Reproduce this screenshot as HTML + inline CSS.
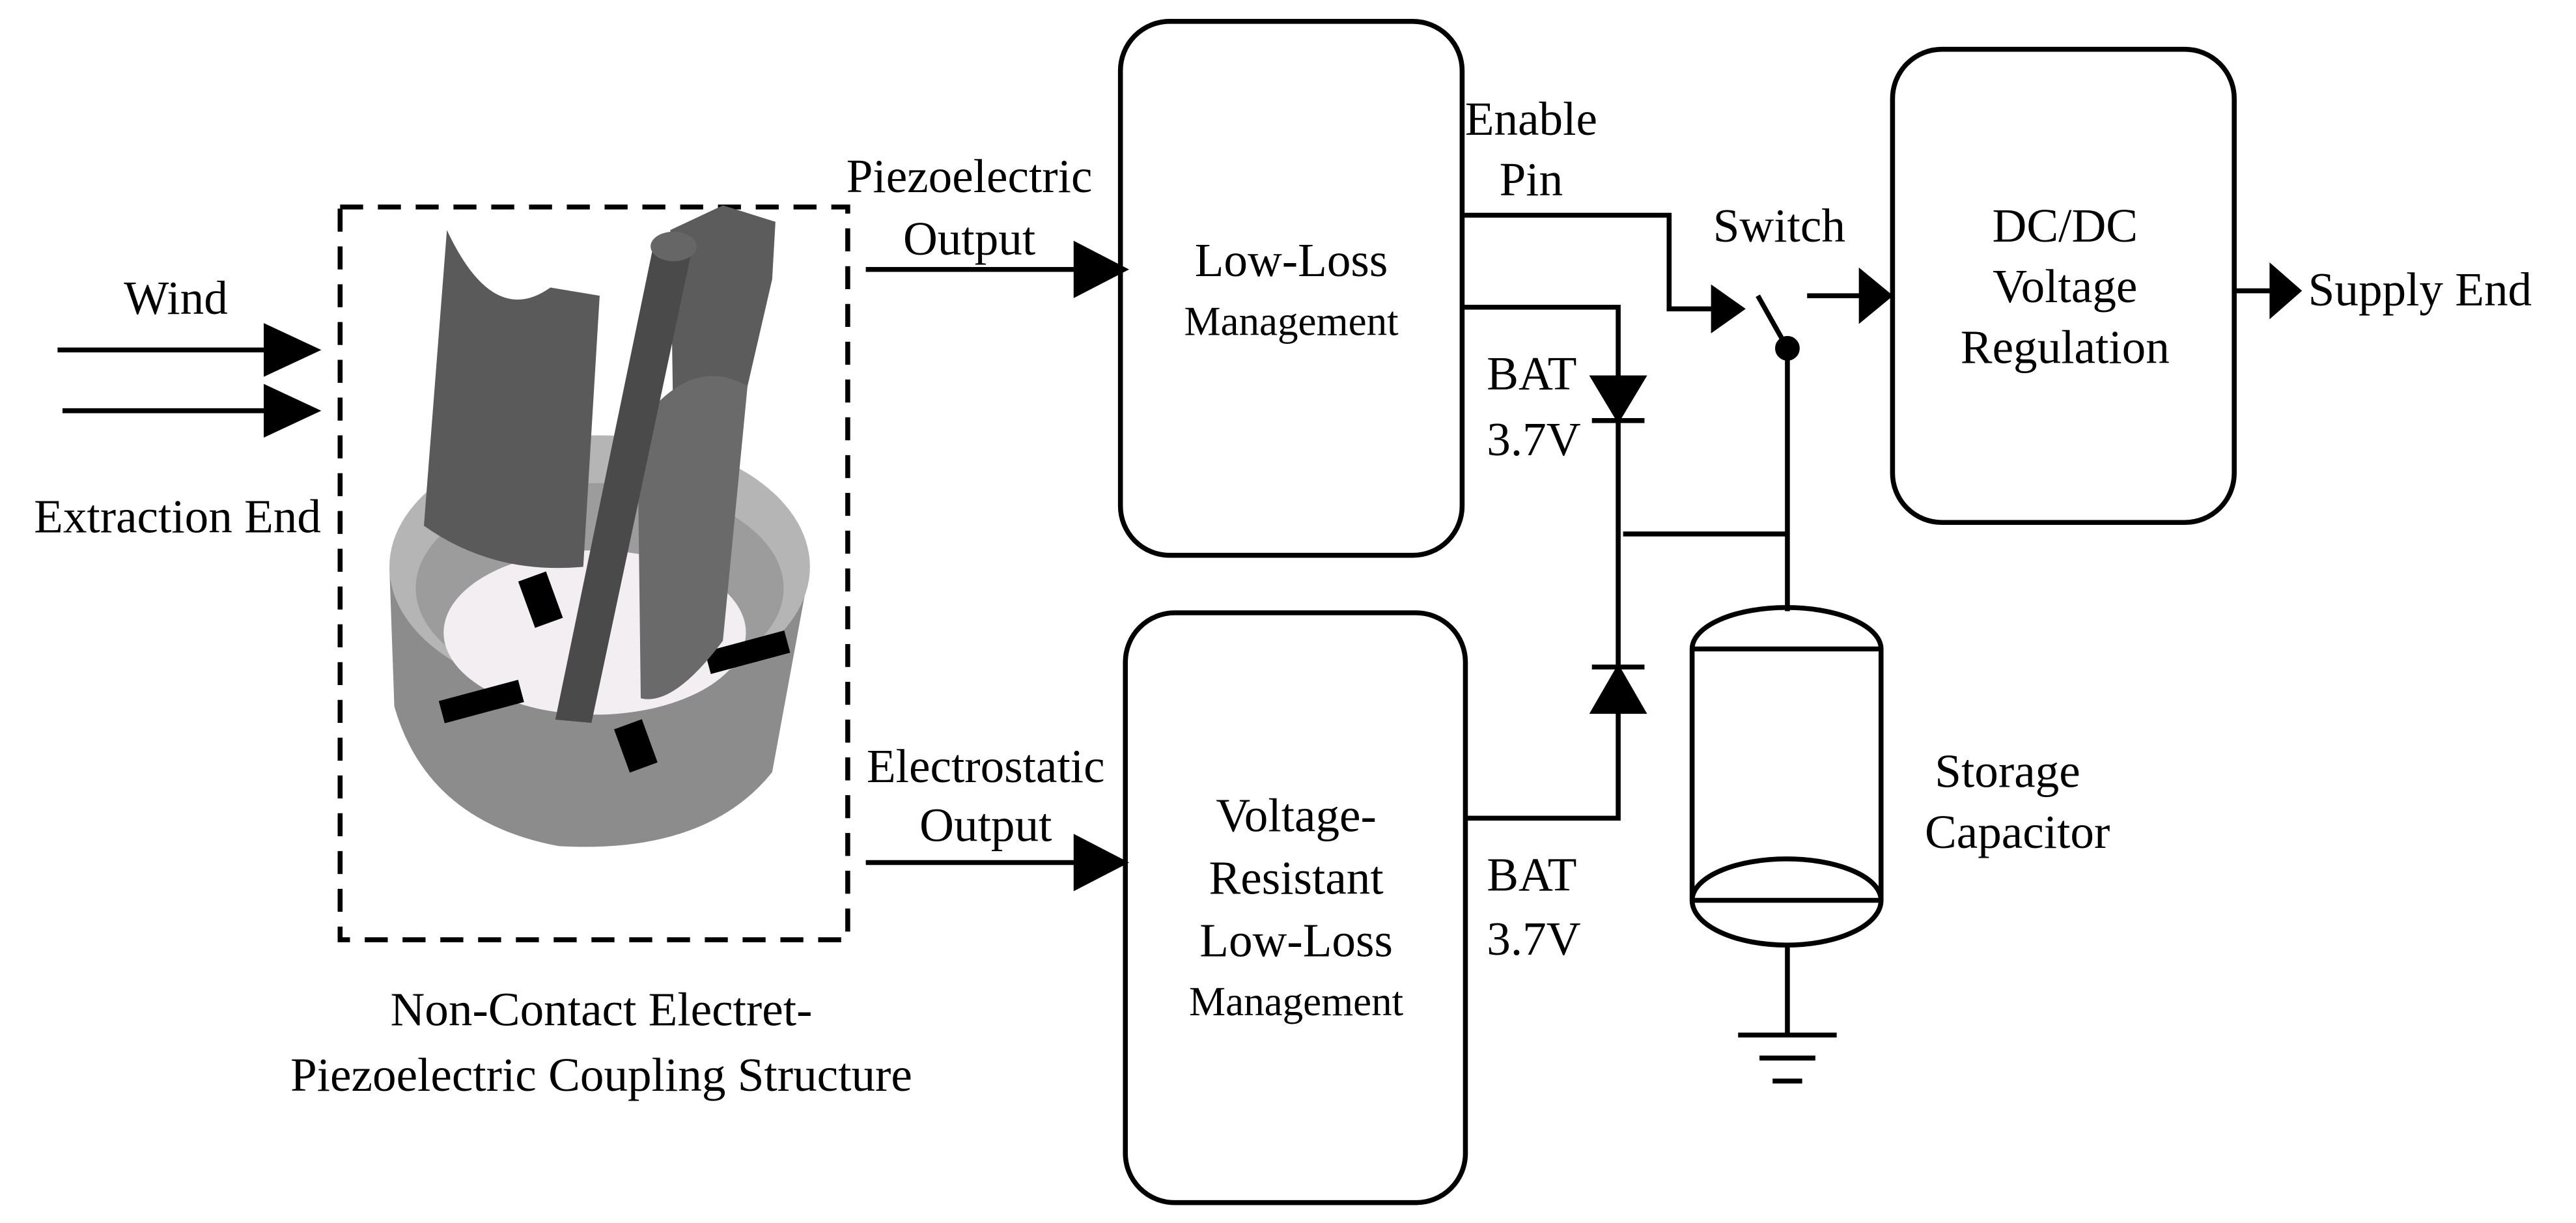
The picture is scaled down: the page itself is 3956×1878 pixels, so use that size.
<!DOCTYPE html>
<html><head><meta charset="utf-8"><style>html,body{margin:0;padding:0;background:#fff}svg{display:block}svg text{font-family:"Liberation Serif","DejaVu Serif",serif}</style></head><body>
<svg width="3956" height="1878" viewBox="0 0 1568 744.4" xmlns="http://www.w3.org/2000/svg" style="font-family:'Liberation Serif',serif" font-size="29" fill="#000">
<g stroke="#000" stroke-width="3" fill="none">
<line x1="35" y1="213" x2="165" y2="213"/><path d="M162,199L192,213L162,227z" fill="#000"/>
<line x1="38" y1="250" x2="165" y2="250"/><path d="M162,236L192,250L162,264z" fill="#000"/>
<rect x="207" y="126" width="309" height="446" stroke-dasharray="14,9"/>
<line x1="527" y1="164" x2="658" y2="164"/><path d="M655,149L684,164L655,179z" fill="#000"/>
<line x1="527" y1="525" x2="658" y2="525"/><path d="M655,510L684,525L655,540z" fill="#000"/>
<rect x="682" y="13" width="208" height="325" rx="30"/>
<rect x="685" y="373" width="207" height="359" rx="30"/>
<rect x="1152" y="30" width="208" height="288" rx="30"/>
<polyline points="890,131 1016,131 1016,188 1045,188"/><path d="M1043,176L1060,188L1043,200z" fill="#000"/>
<line x1="1070" y1="180" x2="1088" y2="212"/>
<circle cx="1088" cy="212" r="6" fill="#000"/>
<line x1="1100" y1="180" x2="1135" y2="180"/><path d="M1133,166L1150,180L1133,194z" fill="#000"/>
<line x1="1360" y1="177" x2="1385" y2="177"/><path d="M1383,163L1399,177L1383,191z" fill="#000"/>
<polyline points="890,187 985,187 985,498 892,498"/>
<path d="M970,230L1000,230L985,255z" fill="#000"/><line x1="969" y1="256" x2="1001" y2="256"/>
<path d="M970,433L1000,433L985,407z" fill="#000"/><line x1="969" y1="406" x2="1001" y2="406"/>
<line x1="988" y1="325" x2="1088" y2="325"/>
<line x1="1088" y1="212" x2="1088" y2="372"/>
<path d="M1030,395A57,25 0 0 1 1145,395"/>
<line x1="1030" y1="395" x2="1145" y2="395"/>
<path d="M1030,548A57,25 0 0 1 1145,548"/>
<line x1="1030" y1="548" x2="1145" y2="548"/>
<path d="M1030,548A57,27 0 0 0 1145,548"/>
<line x1="1030" y1="395" x2="1030" y2="548"/><line x1="1145" y1="395" x2="1145" y2="548"/>
<line x1="1088" y1="575" x2="1088" y2="630"/>
<line x1="1058" y1="630" x2="1118" y2="630"/><line x1="1071" y1="644" x2="1105" y2="644"/><line x1="1079" y1="658" x2="1097" y2="658"/>
</g>
<g stroke="none">
<path d="M237,345 L240,430 Q260,500 340,515 Q430,520 470,470 L493,345z" fill="#8c8c8c"/>
<ellipse cx="365" cy="345" rx="128" ry="80" fill="#b5b5b5"/>
<ellipse cx="365" cy="358" rx="112" ry="64" fill="#9c9c9c"/>
<ellipse cx="362" cy="385" rx="92" ry="50" fill="#f2eef2"/>
<rect x="268" y="420" width="50" height="14" fill="#000" transform="rotate(-15 293 427)"/>
<rect x="430" y="390" width="50" height="14" fill="#000" transform="rotate(-15 455 397)"/>
<rect x="320" y="350" width="18" height="30" fill="#000" transform="rotate(-20 329 365)"/>
<rect x="378" y="440" width="18" height="28" fill="#000" transform="rotate(-20 387 454)"/>
<path d="M258,320 L272,140 Q300,200 335,175 L365,180 L355,345 Q300,350 258,320z" fill="#5a5a5a"/>
<path d="M408,140 L440,125 L472,135 L470,170 L455,235 L435,240 L410,270z" fill="#5c5c5c"/>
<path d="M388,260 Q420,215 455,235 L440,390 Q410,430 390,425z" fill="#6a6a6a"/>
<path d="M398,148 L422,148 L360,440 L338,438z" fill="#4a4a4a"/>
<ellipse cx="410" cy="150" rx="14" ry="9" fill="#666"/>
</g>
<g text-anchor="middle">
<text x="107" y="191">Wind</text>
<text x="108" y="324">Extraction End</text>
<text x="590" y="117">Piezoelectric</text>
<text x="590" y="155">Output</text>
<text x="600" y="476">Electrostatic</text>
<text x="600" y="512">Output</text>
<text x="786" y="168">Low-Loss</text>
<text x="786" y="204" font-size="25">Management</text>
<text x="789" y="506">Voltage-</text>
<text x="789" y="544">Resistant</text>
<text x="789" y="582">Low-Loss</text>
<text x="789" y="618" font-size="25">Management</text>
<text x="366" y="624">Non-Contact Electret-</text>
<text x="366" y="664">Piezoelectric Coupling Structure</text>
<text x="932" y="82">Enable</text>
<text x="932" y="119">Pin</text>
<text x="1083" y="147">Switch</text>
<text x="1257" y="147">DC/DC</text>
<text x="1257" y="184">Voltage</text>
<text x="1257" y="221">Regulation</text>
<text x="1222" y="479">Storage</text>
<text x="1228" y="516">Capacitor</text>
</g>
<text x="905" y="237">BAT</text><text x="905" y="277">3.7V</text>
<text x="905" y="542">BAT</text><text x="905" y="581">3.7V</text>
<text x="1405" y="186">Supply End</text>
</svg>
</body></html>
